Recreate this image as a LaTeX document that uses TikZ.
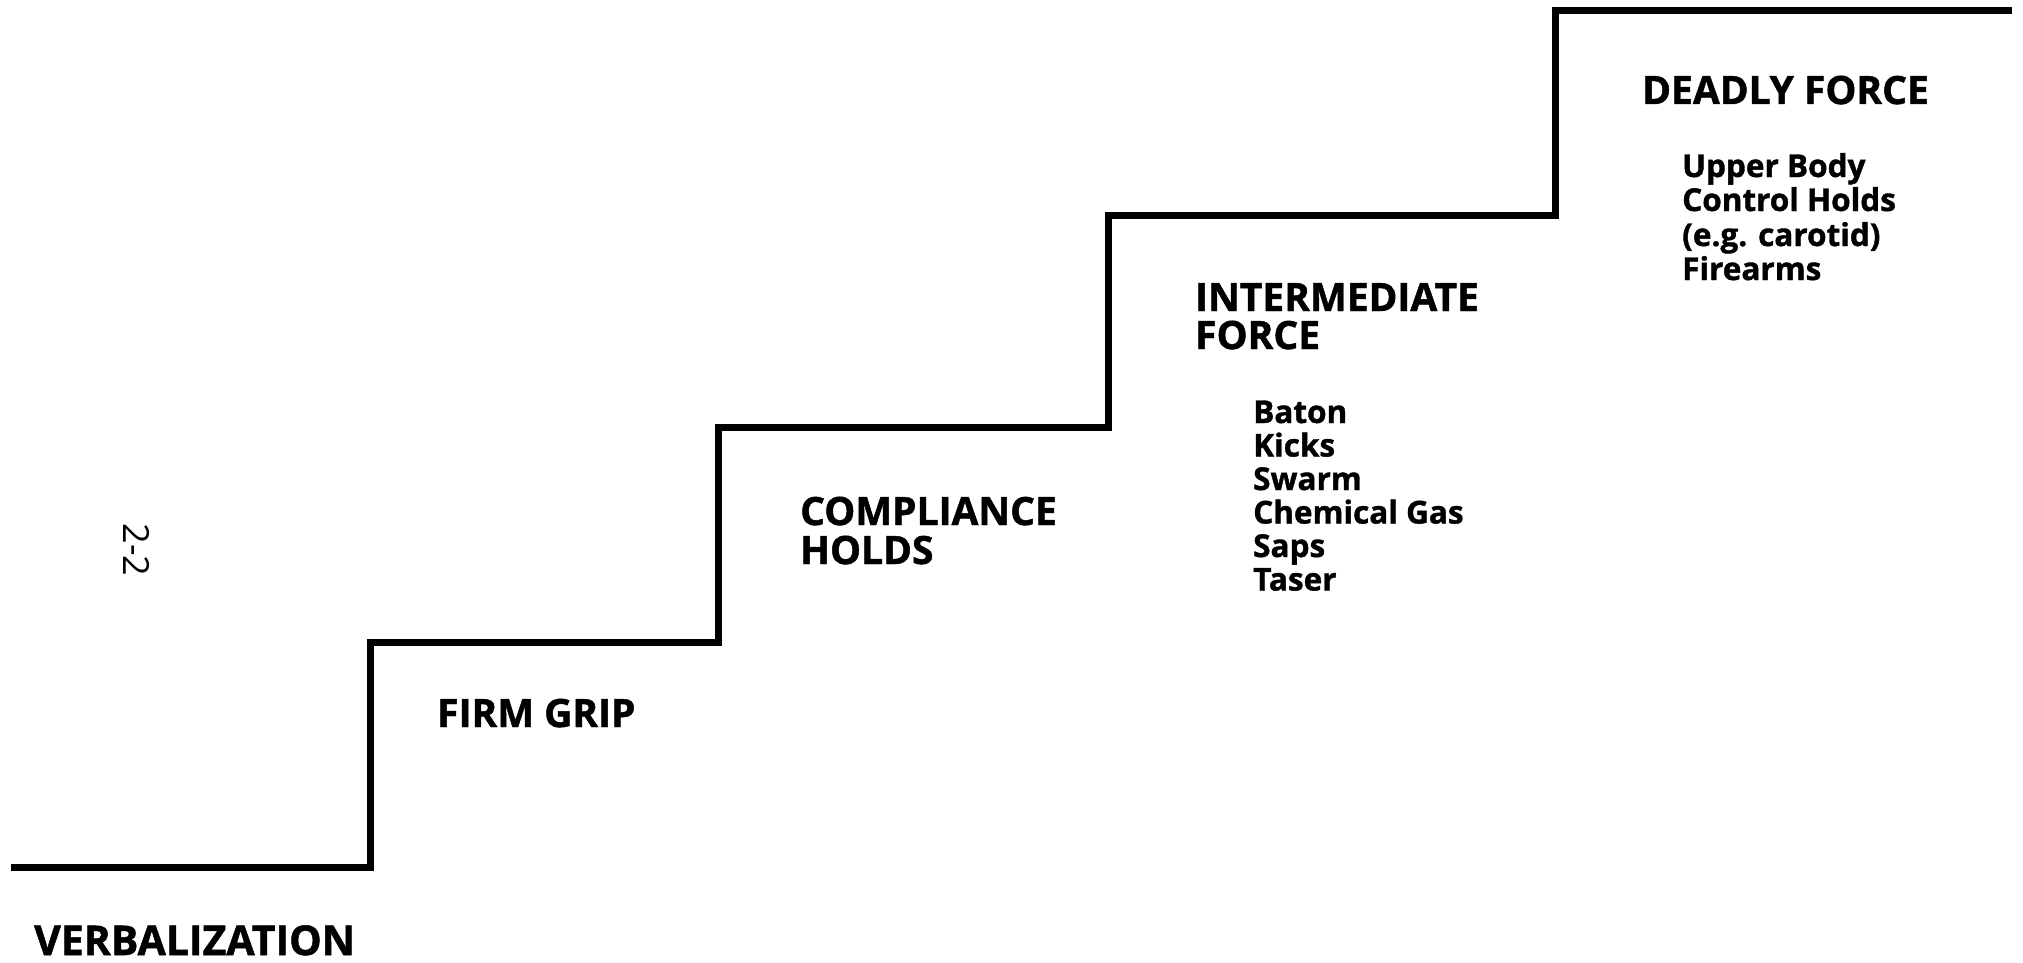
\documentclass[tikz,border=0pt]{standalone}
\usepackage{fontspec}
\setmainfont{Open Sans}[BoldFeatures={FakeBold=1.2}]
\begin{document}
\begin{tikzpicture}[x=1pt,y=-1pt,
  stair/.style={line width=7pt,line join=miter,line cap=rect},
  head/.style={inner sep=0pt,anchor=base west,font=\fontsize{39}{40}\selectfont\bfseries},
  item/.style={inner sep=0pt,anchor=base west,font=\fontsize{31.5}{33}\selectfont\bfseries},
  pg/.style={inner sep=0pt,rotate=-90,font=\fontsize{36}{38}\selectfont}]
\useasboundingbox (0,0) rectangle (2023,963);
\coordinate (s0) at (14,867);
\coordinate (s1) at (370,867);
\coordinate (s2) at (370,642);
\coordinate (s3) at (718,642);
\coordinate (s4) at (718,427);
\coordinate (s5) at (1108,427);
\coordinate (s6) at (1108,215);
\coordinate (s7) at (1555,215);
\coordinate (s8) at (1555,11);
\coordinate (s9) at (2008,11);
\draw[stair] (s0) -- (s1) -- (s2) -- (s3) -- (s4) -- (s5) -- (s6) -- (s7) -- (s8) -- (s9);
\node[head,font=\fontsize{41}{42}\selectfont\bfseries] (verb) at (34,955) {VERBALIZATION};
\node[head] (firm) at (437,727) {FIRM GRIP};
\node[head] (comp1) at (800,525) {COMPLIANCE};
\node[head] (comp2) at (800,564) {HOLDS};
\node[head] (inter1) at (1195,311) {INTERMEDIATE};
\node[head] (inter2) at (1195,349) {FORCE};
\node[item] (i1) at (1253,423) {Baton};
\node[item] (i2) at (1253,456.5) {Kicks};
\node[item] (i3) at (1253,490) {Swarm};
\node[item] (i4) at (1253,523.5) {Chemical Gas};
\node[item] (i5) at (1253,557) {Saps};
\node[item] (i6) at (1253,590.5) {Taser};
\node[head] (dead) at (1642,104) {DEADLY FORCE};
\node[item] (d1) at (1682,177) {Upper Body};
\node[item] (d2) at (1682,211) {Control Holds};
\node[item] (d3) at (1682,246) {(e.g. carotid)};
\node[item] (d4) at (1682,280) {Firearms};
\node[pg] (page) at (137,550) {2-2};
\end{tikzpicture}
\end{document}
